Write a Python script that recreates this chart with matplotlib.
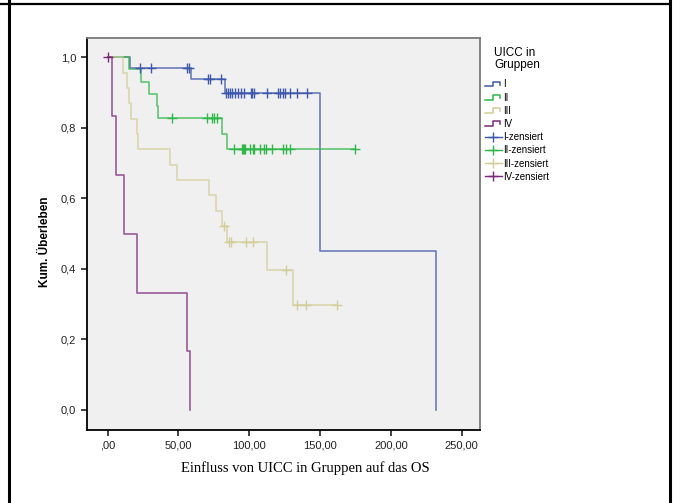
import numpy as np
import matplotlib
matplotlib.use("Agg")
import matplotlib.pyplot as plt
from matplotlib.lines import Line2D
from matplotlib.legend_handler import HandlerBase
from matplotlib.ticker import FuncFormatter

plt.rcParams['font.family'] = ['Liberation Sans', 'DejaVu Sans']

# Kaplan-Meier Stufen (Ereigniszeit, Überleben danach) und Zensierungen
groups = ["I", "II", "III", "IV"]
colors = ["#3E58AC", "#2EB848", "#D3CE97", "#7C287D"]

times_I = [15.7, 58.8, 82.8, 150.0, 231.8]
surv_I = [0.969, 0.9375, 0.90, 0.45, 0.0]
cens_I = [22.8, 30.4, 55.8, 57.6, 70.6, 72.0, 79.8, 83.5, 85.0, 86.5, 88.0,
          90.0, 92.0, 94.5, 96.0, 101.0, 102.0, 103.5, 112.5, 120.5, 122.0,
          123.5, 125.5, 128.5, 134.0, 141.0]

times_II = [15.3, 23.5, 29.4, 34.5, 35.3, 80.5, 84.0]
surv_II = [0.966, 0.931, 0.897, 0.862, 0.828, 0.784, 0.739]
cens_II = [45.2, 69.9, 73.4, 75.1, 77.0, 89.2, 94.8, 95.5, 96.3, 97.0, 100.5,
           102.6, 103.7, 107.6, 110.4, 111.8, 116.4, 124.0, 125.9, 128.7, 174.6]

times_III = [11.0, 13.4, 15.3, 16.5, 20.5, 21.6, 44.0, 49.2, 71.5, 76.3, 80.5,
             84.5, 112.7, 131.1]
surv_III = [0.957, 0.913, 0.870, 0.826, 0.783, 0.739, 0.696, 0.652, 0.609,
            0.565, 0.522, 0.475, 0.396, 0.297]
cens_III = [82.0, 85.7, 86.9, 97.7, 102.8, 125.9, 133.5, 139.8, 161.7]

times_IV = [2.8, 5.9, 11.7, 20.9, 56.2, 58.1]
surv_IV = [0.833, 0.667, 0.5, 0.333, 0.167, 0.0]
cens_IV = [0.5]

all_times = [times_I, times_II, times_III, times_IV]
all_surv = [surv_I, surv_II, surv_III, surv_IV]
all_cens = [cens_I, cens_II, cens_III, cens_IV]

x_ticks = [0, 50, 100, 150, 200, 250]
y_ticks = [0.0, 0.2, 0.4, 0.6, 0.8, 1.0]


def surv_at(t, times, surv):
    # Überleben zum Zeitpunkt t (Treppenfunktion)
    val = 1.0
    for ti, si in zip(times, surv):
        if ti <= t:
            val = si
    return val


class StepHandler(HandlerBase):
    def create_artists(self, legend, orig_handle, xdescent, ydescent,
                       width, height, fontsize, trans):
        x0 = -xdescent
        y0 = -ydescent
        xs = [x0, x0 + width * 0.45, x0 + width * 0.45, x0 + width * 0.9,
              x0 + width * 0.9]
        ys = [y0 + height * 0.15, y0 + height * 0.15, y0 + height * 0.85,
              y0 + height * 0.85, y0 + height * 0.4]
        line = Line2D(xs, ys, color=orig_handle.get_color(), lw=1.1)
        line.set_transform(trans)
        return [line]


fig = plt.figure(figsize=(6.8, 5.03), dpi=100)
ax = fig.add_axes([0.1275, 0.1451, 0.5791, 0.7800])
ax.set_facecolor("#F0F0F0")

for times, surv, cens, col in zip(all_times, all_surv, all_cens, colors):
    end = max(times[-1], max(cens))
    xs = [0.0] + list(times) + [end]
    ys = [1.0] + list(surv) + [surv[-1]]
    ax.step(xs, ys, where="post", color=col, lw=1.2, alpha=0.75, zorder=2)
    cy = [surv_at(c, times, surv) for c in cens]
    ax.plot(cens, cy, linestyle="none", marker="+", markersize=7,
            markeredgewidth=1.0, color=col, zorder=3)

ax.set_xlim(-14.8, 263.3)
ax.set_ylim(-0.057, 1.056)
ax.set_xticks(x_ticks)
ax.set_yticks(y_ticks)
ax.xaxis.set_major_formatter(FuncFormatter(
    lambda v, p: ",00" if v == 0 else f"{v:.2f}".replace(".", ",")))
ax.yaxis.set_major_formatter(FuncFormatter(
    lambda v, p: f"{v:.1f}".replace(".", ",")))
ax.tick_params(direction="out", length=4, width=1.2, labelsize=8,
               colors="#222222")

for side in ["left", "bottom"]:
    ax.spines[side].set_color("black")
    ax.spines[side].set_linewidth(1.3)
for side in ["top", "right"]:
    ax.spines[side].set_color("#7A7A7A")
    ax.spines[side].set_linewidth(1.3)

fig.text(45 / 680, 0.519, "Kum. Überleben", rotation=90, ha="center",
         va="center", fontsize=8.5, fontweight="bold")

fig.text(0.4485, 0.0696, "Einfluss von UICC in Gruppen auf das OS",
         ha="center", va="center", fontsize=10.5,
         family=["Liberation Serif", "DejaVu Serif"])

# Legende
step_handles = [Line2D([], [], color=c) for c in colors]
cens_handles = [Line2D([], [], color=c, marker="+", markersize=7, lw=1.0)
                for c in colors]
handles = step_handles + cens_handles
labels = groups + [g + "-zensiert" for g in groups]
hmap = {h: StepHandler() for h in step_handles}
leg = fig.legend(handles, labels, handler_map=hmap,
                 title="UICC in\nGruppen", loc="upper left",
                 bbox_to_anchor=(0.705, 0.918), frameon=False, fontsize=7,
                 title_fontsize=8.5, handlelength=1.7, handletextpad=0.15,
                 labelspacing=0.33, borderaxespad=0.2)
leg.get_title().set_linespacing(1.0)
leg._legend_box.sep = 6

# Tabellenrahmen
fig.add_artist(Line2D([0, 670 / 680], [0.992, 0.992], color="black", lw=1.6,
                      transform=fig.transFigure))
fig.add_artist(Line2D([9 / 680, 9 / 680], [0, 1], color="black", lw=2.2,
                      transform=fig.transFigure))
fig.add_artist(Line2D([670 / 680, 670 / 680], [0, 1], color="black", lw=2.2,
                      transform=fig.transFigure))

fig.savefig("out.png", dpi=100)
